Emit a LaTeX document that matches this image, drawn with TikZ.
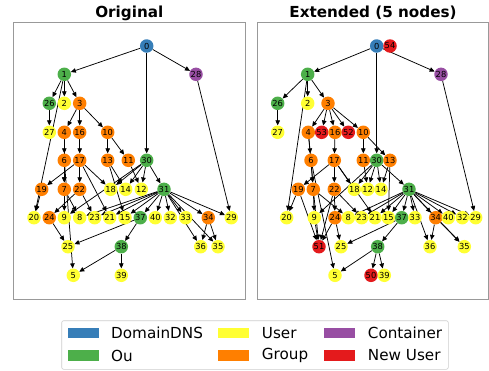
\documentclass[tikz,border=0pt]{standalone}
\usepackage{fontspec}
\setmainfont{DejaVu Sans}
\usetikzlibrary{arrows.meta}
\pgfdeclarelayer{bg}
\pgfsetlayers{bg,main}
\definecolor{cblue}{HTML}{377EB8}
\definecolor{cgreen}{HTML}{4DAF4A}
\definecolor{cpurple}{HTML}{984EA3}
\definecolor{corange}{HTML}{FF7F00}
\definecolor{cyellow}{HTML}{FFFF33}
\definecolor{cred}{HTML}{E41A1C}
\tikzset{
  nd/.style={circle, minimum size=13.5pt, inner sep=0pt, font=\fontsize{8.3}{8.3}\selectfont, text=black},
  ed/.style={-{Triangle[length=5pt,width=4.5pt]}, line width=0.75pt, black},
  panel/.style={draw=black!40, line width=0.8pt},
  ttl/.style={font=\bfseries\fontsize{15.2}{16}\selectfont},
  legtxt/.style={anchor=west, font=\fontsize{15.2}{16}\selectfont, inner sep=0pt},
  legpatch/.style={minimum width=31pt, minimum height=10.7pt, inner sep=0pt, draw=none}
}
\begin{document}
\begin{tikzpicture}[x=1pt,y=-1pt]
\useasboundingbox (0,0) rectangle (489,370);
% panels
\draw[panel] (13.3,22.5) rectangle (245.3,299);
\draw[panel] (257.5,22.5) rectangle (488.5,299);
\node[ttl] (t1) at (129.3,13) {Original};
\node[ttl] (t2) at (373,13) {Extended (5 nodes)};
% left nodes
\foreach \n/\x/\y/\c in {0/146.7/46/cblue, 1/64.3/74.3/cgreen, 28/196/74.3/cpurple,
 26/49.3/103.3/cgreen, 2/64.3/103.3/cyellow, 3/79.7/103.3/corange,
 27/49.3/132.3/cyellow, 4/64.3/132.3/corange, 16/79.7/132.3/corange, 10/107.7/132.3/corange,
 6/64.3/160.3/corange, 17/79.7/160.3/corange, 13/107.7/160.3/corange, 11/128.3/160.3/corange, 30/146.7/160.3/cgreen,
 19/41.7/189.3/corange, 7/64.3/189.3/corange, 22/79.7/189.3/corange, 18/110.7/189.3/cyellow, 14/125.7/189.3/cyellow, 12/141.3/189.3/cyellow, 31/164/189.3/cgreen,
 20/34/217.7/cyellow, 24/49.3/217.7/corange, 9/64.3/217.7/cyellow, 8/79.7/217.7/cyellow, 23/94.7/217.7/cyellow, 21/109.7/217.7/cyellow, 15/125/217.7/cyellow, 37/140.3/217.7/cgreen, 40/155.3/217.7/cyellow, 32/170.3/217.7/cyellow, 33/185.7/217.7/cyellow, 34/208.3/217.7/corange, 29/231.3/217.7/cyellow,
 25/68/246.7/cyellow, 38/121.3/246.7/cgreen, 36/200.7/246.7/cyellow, 35/218/246.7/cyellow,
 5/73.3/275.3/cyellow, 39/121.3/275.3/cyellow}
 \node[nd, fill=\c] (L\n) at (\x,\y) {\n};
% right nodes
\foreach \n/\x/\y/\c in {0/376.7/46/cblue, 54/390/46/cred, 1/307.7/74.3/cgreen, 28/441/74.3/cpurple,
 26/277.7/103.3/cgreen, 2/307.7/103.3/cyellow, 3/328/103.3/corange,
 27/277.7/132.3/cyellow, 4/308.3/132.3/corange, 53/321.7/132.3/cred, 16/335/132.3/corange, 52/348.3/132.3/cred, 10/363.3/132.3/corange,
 6/311/160.3/corange, 17/334.3/160.3/corange, 11/363.3/160.3/corange, 30/376.7/160.3/cgreen, 13/390/160.3/corange,
 19/298.3/189.3/corange, 7/313.3/189.3/corange, 22/334.3/189.3/corange, 18/354.3/189.3/cyellow, 12/367.7/189.3/cyellow, 14/381/189.3/cyellow, 31/409/189.3/cgreen,
 20/286.7/217.7/cyellow, 9/314.3/217.7/cyellow, 24/335/217.7/corange, 8/348.3/217.7/cyellow, 23/361.7/217.7/cyellow, 21/375/217.7/cyellow, 15/388.3/217.7/cyellow, 37/401.7/217.7/cgreen, 33/415/217.7/cyellow, 34/435.7/217.7/corange, 40/448.3/217.7/cyellow, 32/462.3/217.7/cyellow, 29/475.7/217.7/cyellow,
 51/319/246.7/cred, 25/341/246.7/cyellow, 38/377.7/246.7/cgreen, 36/430/246.7/cyellow, 35/464.3/246.7/cyellow,
 5/335/275.3/cyellow, 50/371/275.3/cred, 39/384.3/275.3/cyellow}
 \node[nd, fill=\c] (R\n) at (\x,\y) {\n};
% edges
\begin{pgfonlayer}{bg}
\foreach \g in {L,R}{
 \foreach \a/\b in {0/1, 0/28, 0/30, 1/26, 1/2, 1/3, 1/20, 26/27, 3/4, 3/16, 3/10,
  4/6, 4/7, 16/17, 10/13, 10/11, 6/7, 6/5, 17/19, 17/22, 17/18, 17/21,
  13/14, 13/15, 11/12, 30/18, 30/9, 30/14, 30/12, 30/31, 19/20, 7/9, 7/8,
  22/24, 22/23, 28/29, 31/8, 31/23, 31/21, 31/15, 31/37, 31/40, 31/32, 31/33,
  31/34, 31/36, 31/35, 31/29, 34/36, 34/35, 24/25, 37/25, 37/38, 38/5, 38/39}
  \draw[ed] (\g\a) -- (\g\b);
}
\foreach \a/\b in {3/53, 3/52, 19/51, 9/51, 7/51, 24/51, 22/51, 38/50}
  \draw[ed] (R\a) -- (R\b);
\end{pgfonlayer}
% legend
\draw[draw=black!20, fill=white, rounded corners=2pt, line width=0.6pt] (61.7,320.7) rectangle (448.3,369.3);
\node[legpatch, fill=cblue]   (p1) at (83,333) {};
\node[legtxt] (l1) at (111,333) {DomainDNS};
\node[legpatch, fill=cgreen]  (p2) at (83,355.5) {};
\node[legtxt] (l2) at (111,355.5) {Ou};
\node[legpatch, fill=cyellow] (p3) at (233.8,333) {};
\node[legtxt] (l3) at (261.7,333) {User};
\node[legpatch, fill=corange] (p4) at (233.8,355.5) {};
\node[legtxt] (l4) at (261.7,355.5) {Group};
\node[legpatch, fill=cpurple] (p5) at (339.5,333) {};
\node[legtxt] (l5) at (367.7,333) {Container};
\node[legpatch, fill=cred]    (p6) at (339.5,355.5) {};
\node[legtxt] (l6) at (367.7,355.5) {New User};
\end{tikzpicture}
\end{document}
